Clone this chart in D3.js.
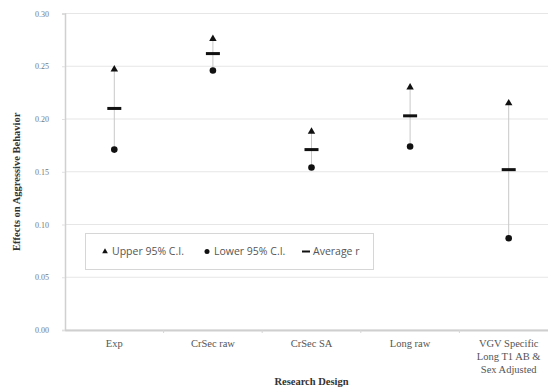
<!DOCTYPE html>
<html>
<head>
<meta charset="utf-8">
<script src="https://cdn.jsdelivr.net/npm/d3@7"></script>
<style>
  body { margin: 0; background: #fff; }
  svg { display: block; }
</style>
</head>
<body>
<svg id="chart" width="548" height="387"></svg>
<script>
// Research design categories (multi-line labels split on "|")
var designs = ["Exp", "CrSec raw", "CrSec SA", "Long raw", "VGV Specific|Long T1 AB &|Sex Adjusted"];
var upperCI = [0.247, 0.276, 0.188, 0.230, 0.215];
var lowerCI = [0.171, 0.246, 0.154, 0.174, 0.087];
var averageR = [0.210, 0.262, 0.171, 0.203, 0.152];
var yTicks = [0, 0.05, 0.10, 0.15, 0.20, 0.25, 0.30];

var svg = d3.select("#chart");
var plotLeft = 65, plotRight = 558, plotTop = 13.5, plotBottom = 330;

var x = d3.scaleBand().domain(designs).range([plotLeft, plotRight]);
var y = d3.scaleLinear().domain([0, 0.3]).range([plotBottom, plotTop]);

// Gridlines
svg.append("g")
    .selectAll("line")
    .data(yTicks)
    .join("line")
    .attr("x1", plotLeft)
    .attr("x2", plotRight)
    .attr("y1", d => y(d))
    .attr("y2", d => y(d))
    .style("stroke", "#e6e6e6")
    .style("stroke-width", 1.2);

// Y axis
var yAxis = svg.append("g")
    .attr("transform", "translate(" + plotLeft + ",0)")
    .call(d3.axisLeft(y).tickValues(yTicks).tickFormat(d3.format(".2f")).tickSize(3).tickPadding(13));
yAxis.select(".domain").style("stroke", "#d0d0d0").style("stroke-width", 1.5);
yAxis.selectAll(".tick line").style("stroke", "#e0e0e0");
yAxis.selectAll("text")
    .style("font-family", "'Liberation Serif', 'DejaVu Serif', serif")
    .style("font-size", "8px")
    .style("fill", "#777");

// X axis
var xAxis = svg.append("g")
    .attr("transform", "translate(0," + plotBottom + ")")
    .call(d3.axisBottom(x).tickSize(0).tickFormat(""));
xAxis.select(".domain").style("stroke", "#cfcfcf").style("stroke-width", 2);

// Tick marks between categories
svg.append("g")
    .selectAll("line")
    .data(designs.slice(1))
    .join("line")
    .attr("x1", d => x(d))
    .attr("x2", d => x(d))
    .attr("y1", plotBottom)
    .attr("y2", plotBottom + 3)
    .style("stroke", "#d6d6d6");

// Category labels
var catLabels = svg.append("g")
    .selectAll("text")
    .data(designs)
    .join("text")
    .attr("x", d => x(d) + x.bandwidth() / 2)
    .attr("y", 347)
    .attr("text-anchor", "middle")
    .style("font-family", "'Liberation Serif', 'DejaVu Serif', serif")
    .style("font-size", "10.5px")
    .style("fill", "#555");
catLabels.selectAll("tspan")
    .data(d => d.split("|"))
    .join("tspan")
    .attr("x", function () { return d3.select(this.parentNode).attr("x"); })
    .attr("dy", (d, i) => i === 0 ? 0 : 13)
    .text(d => d);

// Axis titles
svg.append("text")
    .attr("x", (plotLeft + plotRight) / 2)
    .attr("y", 385)
    .attr("text-anchor", "middle")
    .style("font-family", "'Liberation Serif', 'DejaVu Serif', serif")
    .style("font-size", "10.5px")
    .style("font-weight", "bold")
    .style("fill", "#333")
    .text("Research Design");

svg.append("text")
    .attr("transform", "translate(20," + ((plotTop + plotBottom) / 2 + 10) + ") rotate(-90)")
    .attr("text-anchor", "middle")
    .style("font-family", "'Liberation Serif', 'DejaVu Serif', serif")
    .style("font-size", "10.5px")
    .style("font-weight", "bold")
    .style("fill", "#333")
    .text("Effects on Aggressive Behavior");

var cx = d => x(d) + x.bandwidth() / 2;

// Connecting lines between upper and lower CI
svg.append("g")
    .selectAll("line")
    .data(designs)
    .join("line")
    .attr("x1", d => cx(d))
    .attr("x2", d => cx(d))
    .attr("y1", (d, i) => y(upperCI[i]))
    .attr("y2", (d, i) => y(lowerCI[i]))
    .style("stroke", "#c8c8c8")
    .style("stroke-width", 1);

// Upper 95% C.I. triangles
var tri = d3.symbol().type(d3.symbolTriangle).size(24);
svg.append("g")
    .selectAll("path")
    .data(designs)
    .join("path")
    .attr("transform", (d, i) => "translate(" + cx(d) + "," + y(upperCI[i]) + ")")
    .attr("d", tri)
    .style("fill", "#111");

// Lower 95% C.I. circles
svg.append("g")
    .selectAll("circle")
    .data(designs)
    .join("circle")
    .attr("cx", d => cx(d))
    .attr("cy", (d, i) => y(lowerCI[i]))
    .attr("r", 3.3)
    .style("fill", "#111");

// Average r dashes
svg.append("g")
    .selectAll("rect")
    .data(designs)
    .join("rect")
    .attr("x", d => cx(d) - 7)
    .attr("y", (d, i) => y(averageR[i]) - 1.5)
    .attr("width", 14)
    .attr("height", 3)
    .style("fill", "#111");

// Legend
var legend = svg.append("g");
legend.append("rect")
    .attr("x", 85.5)
    .attr("y", 233.5)
    .attr("width", 288)
    .attr("height", 36)
    .style("fill", "#fff")
    .style("stroke", "#d6d6d6");

var legendItems = ["Upper 95% C.I.", "Lower 95% C.I.", "Average r"];
var legendX = [105, 207, 306];
var lg = legend.selectAll("g")
    .data(legendItems)
    .join("g")
    .attr("transform", (d, i) => "translate(" + legendX[i] + ",251.5)");
lg.filter((d, i) => i === 0).append("path")
    .attr("d", d3.symbol().type(d3.symbolTriangle).size(14))
    .style("fill", "#111");
lg.filter((d, i) => i === 1).append("circle")
    .attr("r", 2.5)
    .style("fill", "#111");
lg.filter((d, i) => i === 2).append("rect")
    .attr("x", -4)
    .attr("y", -1)
    .attr("width", 8)
    .attr("height", 2)
    .style("fill", "#111");
lg.append("text")
    .attr("x", 7)
    .attr("y", 3.8)
    .style("font-family", "'Open Sans', 'Noto Sans', sans-serif")
    .style("font-size", "10.5px")
    .style("fill", "#555")
    .text(d => d);
</script>
</body>
</html>
